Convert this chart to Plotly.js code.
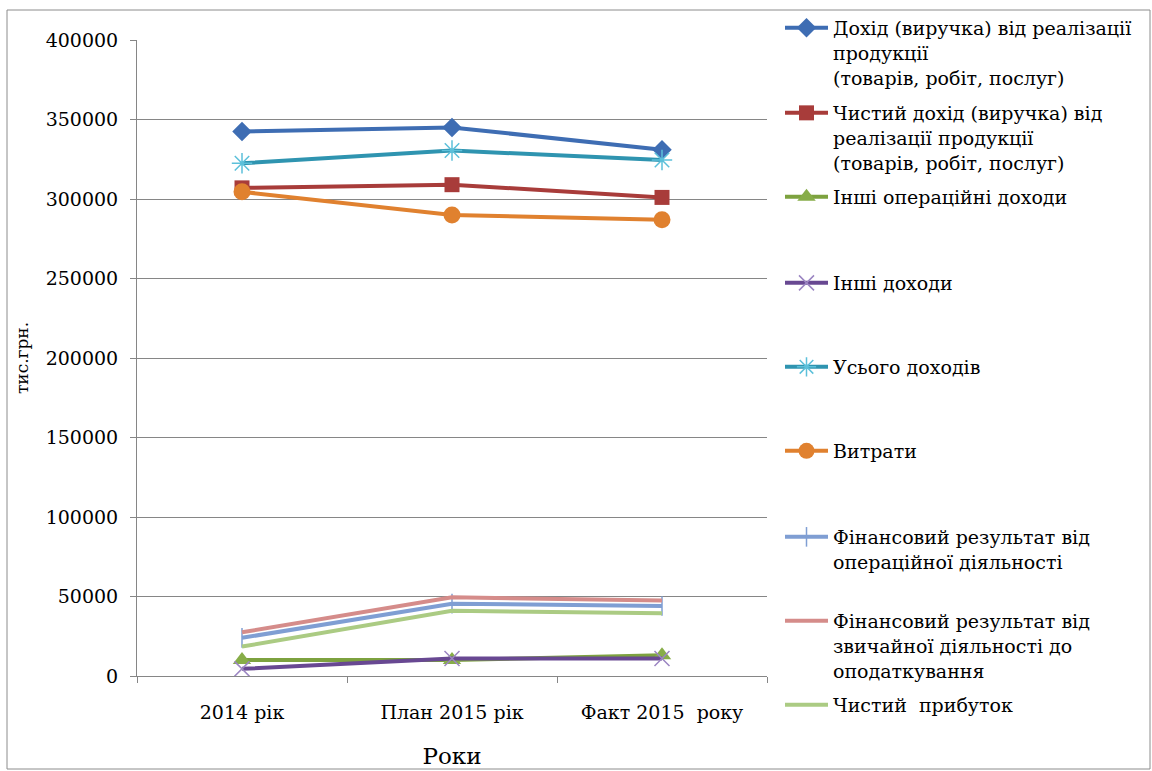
<!DOCTYPE html>
<html>
<head>
<meta charset="utf-8">
<script src="https://cdn.plot.ly/plotly-3.0.1.min.js"></script>
<style>
  html, body { margin: 0; padding: 0; background: #fff; }
  #chart { width: 1152px; height: 771px; }
</style>
</head>
<body>
<div id="chart"></div>
<script>
// ---- data ----
const categories = ['2014 рік', 'План 2015 рік', 'Факт 2015  року'];
const seriesNames = [
  'Дохід (виручка) від реалізації<br>продукції<br>(товарів, робіт, послуг)',
  'Чистий дохід (виручка) від<br>реалізації продукції<br>(товарів, робіт, послуг)',
  'Інші операційні доходи',
  'Інші доходи',
  'Усього доходів',
  'Витрати',
  'Фінансовий результат від<br>операційної діяльності',
  'Фінансовий результат від<br>звичайної діяльності до<br>оподаткування',
  'Чистий  прибуток'
];
const revenue = [342500, 345000, 331000];
const netRevenue = [307000, 309000, 301000];
const otherOperatingIncome = [10000, 10000, 13000];
const otherIncome = [4500, 11000, 11000];
const totalIncome = [322500, 330500, 324500];
const expenses = [304500, 290000, 287000];
const operatingResult = [24000, 45500, 44000];
const ordinaryResult = [27500, 49500, 47500];
const netProfit = [18500, 41000, 39500];
const yTickValues = [0, 50000, 100000, 150000, 200000, 250000, 300000, 350000, 400000];

// ---- geometry helpers (pixel -> paper) ----
const W = 1152, H = 771;
const M = { l: 137, r: 385, t: 40, b: 95, autoexpand: false };
const PW = W - M.l - M.r, PH = H - M.t - M.b;
const px = x => (x - M.l) / PW;
const py = y => (H - M.b - y) / PH;

const FONT = 'DejaVu Serif, Liberation Serif, serif';

const styles = [
  { data: revenue, color: '#3E6DB3', symbol: 'diamond', msize: 15, mcolor: '#3E6DB3', mline: 0, lw: 4 },
  { data: netRevenue, color: '#A83C3A', symbol: 'square', msize: 15, mcolor: '#A83C3A', mline: 0, lw: 4 },
  { data: otherOperatingIncome, color: '#7DA23F', symbol: 'triangle-up', msize: 16, mcolor: '#87AD48', mline: 0, lw: 4 },
  { data: otherIncome, color: '#684892', symbol: 'x-thin-open', msize: 15, mcolor: '#9B85C2', mline: 1.5, lw: 4 },
  { data: totalIncome, color: '#2F94B0', symbol: 'asterisk-open', msize: 17, mcolor: '#5CC0DA', mline: 1.5, lw: 4 },
  { data: expenses, color: '#E0812F', symbol: 'circle', msize: 17, mcolor: '#E0812F', mline: 0, lw: 4 },
  { data: operatingResult, color: '#7F9ED3', symbol: 'line-ns-open', msize: 14, mcolor: '#7F9ED3', mline: 1.5, lw: 4 },
  { data: ordinaryResult, color: '#D58C8A', symbol: 'none', msize: 0, mcolor: '#D58C8A', mline: 0, lw: 4 },
  { data: netProfit, color: '#ABCB83', symbol: 'none', msize: 0, mcolor: '#ABCB83', mline: 0, lw: 4 }
];

// legend first-line centres (pixels) in the reference
const legendCentres = [28, 113, 197, 283, 367, 451, 537, 621, 705];

const traces = styles.map((s, i) => {
  const t = {
    type: 'scatter',
    mode: s.symbol === 'none' ? 'lines' : 'lines+markers',
    x: categories,
    y: s.data,
    name: seriesNames[i],
    line: { color: s.color, width: s.lw },
    legend: i === 0 ? 'legend' : 'legend' + (i + 1)
  };
  if (s.symbol !== 'none') {
    t.marker = { symbol: s.symbol, size: s.msize, color: s.mcolor, line: { color: s.mcolor, width: s.mline } };
  }
  return t;
});

const layout = {
  width: W, height: H,
  margin: M,
  paper_bgcolor: '#ffffff',
  plot_bgcolor: '#ffffff',
  font: { family: FONT, size: 19, color: '#000' },
  xaxis: {
    type: 'category',
    range: [-0.5, 2.5],
    showgrid: false,
    showline: true, linecolor: '#868686', linewidth: 1,
    ticks: 'outside', ticklen: 6, tickcolor: '#868686',
    tickson: 'boundaries',
    ticklabelstandoff: 19,
    tickfont: { family: FONT, size: 19, color: '#000' },
    title: { text: 'Роки', font: { family: FONT, size: 23, color: '#000' }, standoff: 26 },
    zeroline: false, fixedrange: true, automargin: false
  },
  yaxis: {
    range: [0, 400000],
    tickvals: yTickValues,
    tickformat: 'd',
    showgrid: true, gridcolor: '#868686', gridwidth: 1,
    showline: true, linecolor: '#868686', linewidth: 1,
    ticks: 'outside', ticklen: 6, tickcolor: '#868686',
    ticklabelstandoff: 8,
    tickfont: { family: FONT, size: 19, color: '#000' },
    title: { text: 'тис.грн.', font: { family: FONT, size: 17, color: '#000' }, standoff: 12 },
    zeroline: false, fixedrange: true, automargin: false
  },
  showlegend: true,
  shapes: [
    { type: 'rect', xref: 'paper', yref: 'paper', x0: px(7), x1: px(1150), y0: py(769), y1: py(10),
      line: { color: '#8C8C8C', width: 1 }, fillcolor: 'rgba(0,0,0,0)', layer: 'below' }
  ]
};

legendCentres.forEach((c, i) => {
  const key = i === 0 ? 'legend' : 'legend' + (i + 1);
  layout[key] = {
    x: px(780), xanchor: 'left',
    y: py(c - 19), yanchor: 'top',
    bgcolor: 'rgba(0,0,0,0)',
    borderwidth: 0,
    itemwidth: 43,
    valign: 'top',
    font: { family: FONT, size: 19, color: '#000' },
    tracegroupgap: 0
  };
});

Plotly.newPlot('chart', traces, layout, { staticPlot: true, displayModeBar: false });
</script>
</body>
</html>
